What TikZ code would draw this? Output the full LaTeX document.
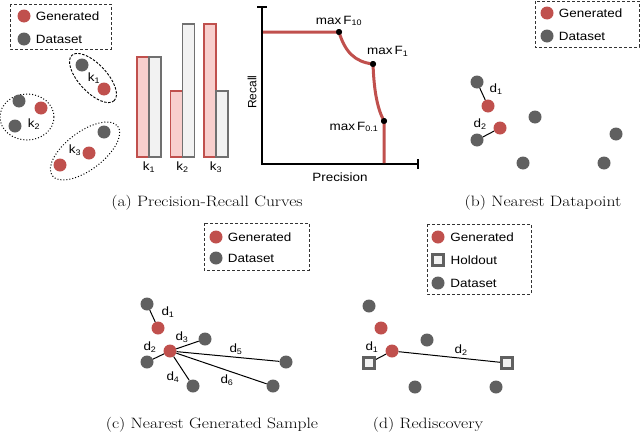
\documentclass[tikz,border=0pt]{standalone}
\usepackage{fontspec}
\usepackage{xcolor}
\usetikzlibrary{positioning}
\newfontfamily\labelfont[FakeStretch=1.12]{Liberation Sans}
\newfontfamily\plainlabelfont{Liberation Sans}
\newfontfamily\capfamily[FakeStretch=1.17]{Latin Modern Roman}
\definecolor{genred}{HTML}{C0504D}
\definecolor{datagray}{HTML}{606060}
\definecolor{barpink}{HTML}{F8CFCD}
\definecolor{barwhite}{HTML}{F2F2F2}
\newcommand{\dotsize}{13pt}
\newcommand{\capfont}{\capfamily\fontsize{15}{18}\selectfont}

\begin{document}
\begin{tikzpicture}[x=1pt, y=-1pt, >=stealth,
    gen/.style={circle, fill=genred, minimum size=\dotsize, inner sep=0pt},
    data/.style={circle, fill=datagray, minimum size=\dotsize, inner sep=0pt},
    hold/.style={rectangle, draw=datagray, line width=3pt, fill=barwhite, minimum size=11pt, inner sep=0pt},
    lbl/.style={font=\labelfont\fontsize{12}{14}\selectfont, inner sep=1pt},
    small/.style={font=\labelfont\fontsize{12}{14}\selectfont, inner sep=1pt},
    maxdot/.style={circle, fill=black, inner sep=0pt, minimum size=6pt},
    legbox/.style={draw=black!80, dash pattern=on 3pt off 2pt, line width=0.9pt},
    link/.style={line width=1pt},
    captext/.style={font=\capfont, inner sep=0pt}]
    \useasboundingbox (0,0) rectangle (640,434);

    % (a) legend
    \draw[legbox] (10,4) rectangle (111,49);
    \node[gen] (aleggen) at (24,16) {};
    \node[data] (alegdata) at (24,39) {};
    \node[lbl, right=4pt of aleggen] (alegtxtgen) {Generated};
    \node[lbl, right=4pt of alegdata] (alegtxtdata) {Dataset};

    % (a) clusters
    \draw[dash pattern=on 2.5pt off 1.5pt, line width=0.9pt] (93,78) ellipse[x radius=31, y radius=14, rotate=-47];
    \draw[dotted, line width=1pt] (27,117) ellipse[x radius=27, y radius=23];
    \draw[dotted, line width=1pt] (85,151) ellipse[x radius=41, y radius=19, rotate=37];
    \node[data] (ka) at (82,65) {};
    \node[gen] (kb) at (104,89) {};
    \node[small] (klab1) at (94,78) {k\textsubscript{1}};
    \node[data] (kc) at (19,101) {};
    \node[data] (kd) at (15,126) {};
    \node[gen] (ke) at (41,108) {};
    \node[small] (klab2) at (34,124) {k\textsubscript{2}};
    \node[data] (kf) at (104,132) {};
    \node[gen] (kg) at (89,153) {};
    \node[gen] (kh) at (60,165) {};
    \node[small] (klab3) at (75,150) {k\textsubscript{3}};

    % (a) bars
    \foreach \x/\r/\g/\n in {137/57/57/1, 170.5/91/24/2, 204/24/91/3} {
        \draw[draw=genred, fill=barpink, line width=1.5pt] (\x,157) rectangle (\x+12,\r);
        \draw[draw=datagray!90, fill=barwhite, line width=1.5pt] (\x+12,157) rectangle (\x+24,\g);
        \node[small] (bar\n) at (\x+12,167) {k\textsubscript{\n}};
    }

    % (a) precision-recall
    \draw[line width=1.4pt] (257,7) -- (267,7);
    \draw[line width=1.4pt] (262,7) -- (262,164) -- (418,164);
    \draw[line width=1.4pt] (418,159) -- (418,169);
    \node[font=\plainlabelfont\fontsize{12}{14}\selectfont, inner sep=1pt, rotate=90] (recall) at (252,92) {Recall};
    \node[small] (precision) at (340,177) {Precision};
    \coordinate (cstart) at (263,32);
    \coordinate (cend) at (384,163);
    \node[maxdot] (f10) at (339,32) {};
    \node[maxdot] (f1) at (373,64) {};
    \node[maxdot] (f01) at (384,121) {};
    \draw[genred, line width=3pt] (cstart) -- (f10.center)
        .. controls (345,52) and (355,62) .. (f1.center)
        .. controls (374,90) and (377,108) .. (f01.center) -- (cend);
    \node[maxdot] at (f10) {};
    \node[maxdot] at (f1) {};
    \node[maxdot] at (f01) {};
    \node[small] (f10lab) at (339,21) {max\,F\textsubscript{10}};
    \node[small, anchor=west] (f1lab) at (366,51) {max\,F\textsubscript{1}};
    \node[small] (f01lab) at (354,127) {max\,F\textsubscript{0.1}};
    \node[captext] (capa) at (207,203) {(a) Precision-Recall Curves};

    % (b) legend
    \draw[legbox] (535,1) rectangle (639,47);
    \node[gen] (bleggen) at (547,13) {};
    \node[data] (blegdata) at (547,36) {};
    \node[lbl, right=4pt of bleggen] (blegtxtgen) {Generated};
    \node[lbl, right=4pt of blegdata] (blegtxtdata) {Dataset};

    % (b) points
    \node[data] (b1) at (477,82) {};
    \node[gen] (b2) at (488,106) {};
    \node[gen] (b3) at (500,128) {};
    \node[data] (b4) at (477,140) {};
    \node[data] (b5) at (535,117) {};
    \node[data] (b6) at (616,134) {};
    \node[data] (b7) at (523,163) {};
    \node[data] (b8) at (604,163) {};
    \draw[link] (b1) -- (b2);
    \draw[link] (b3) -- (b4);
    \node[small] (bd1) at (496,89) {d\textsubscript{1}};
    \node[small] (bd2) at (480,124) {d\textsubscript{2}};
    \node[captext] (capb) at (543,203) {(b) Nearest Datapoint};

    % (c) legend
    \draw[legbox] (204,223) rectangle (309,270);
    \node[gen] (cleggen) at (216,237) {};
    \node[data] (clegdata) at (216,258) {};
    \node[lbl, right=4pt of cleggen] (clegtxtgen) {Generated};
    \node[lbl, right=4pt of clegdata] (clegtxtdata) {Dataset};

    % (c) points
    \node[data] (c1) at (147,304) {};
    \node[gen] (c2) at (158,328) {};
    \node[gen] (c0) at (170,351) {};
    \node[data] (c3) at (205,339) {};
    \node[data] (c4) at (147,362) {};
    \node[data] (c5) at (193,386) {};
    \node[data] (c6) at (286,362) {};
    \node[data] (c7) at (273,386) {};
    \draw[link] (c1) -- (c2);
    \foreach \t in {3,...,7} {
        \draw[link] (c0) -- (c\t);
    }
    \node[small] (cd1) at (168,312) {d\textsubscript{1}};
    \node[small] (cd2) at (150,347) {d\textsubscript{2}};
    \node[small] (cd3) at (182,337) {d\textsubscript{3}};
    \node[small] (cd4) at (173,377) {d\textsubscript{4}};
    \node[small] (cd5) at (236,349) {d\textsubscript{5}};
    \node[small] (cd6) at (227,380) {d\textsubscript{6}};
    \node[captext] (capc) at (212,425) {(c) Nearest Generated Sample};

    % (d) legend
    \draw[legbox] (427,224) rectangle (531,294);
    \node[gen] (dleggen) at (438,237) {};
    \node[hold] (dleghold) at (438,260) {};
    \node[data] (dlegdata) at (438,283) {};
    \node[lbl, right=4.5pt of dleggen] (dlegtxtgen) {Generated};
    \node[lbl, right=4.5pt of dleghold] (dlegtxthold) {Holdout};
    \node[lbl, right=4.5pt of dlegdata] (dlegtxtdata) {Dataset};

    % (d) points
    \node[data] (d1) at (369,306) {};
    \node[gen] (d2) at (381,328) {};
    \node[gen] (d0) at (392,351) {};
    \node[hold] (dh1) at (369,363) {};
    \node[data] (d3) at (427,340) {};
    \node[hold] (dh2) at (507,363) {};
    \node[data] (d4) at (415,387) {};
    \node[data] (d5) at (496,387) {};
    \draw[link] (d0) -- (dh1);
    \draw[link] (d0) -- (dh2);
    \node[small] (dd1) at (372,347) {d\textsubscript{1}};
    \node[small] (dd2) at (461,350) {d\textsubscript{2}};
    \node[captext] (capd) at (428,425) {(d) Rediscovery};
\end{tikzpicture}
\end{document}
